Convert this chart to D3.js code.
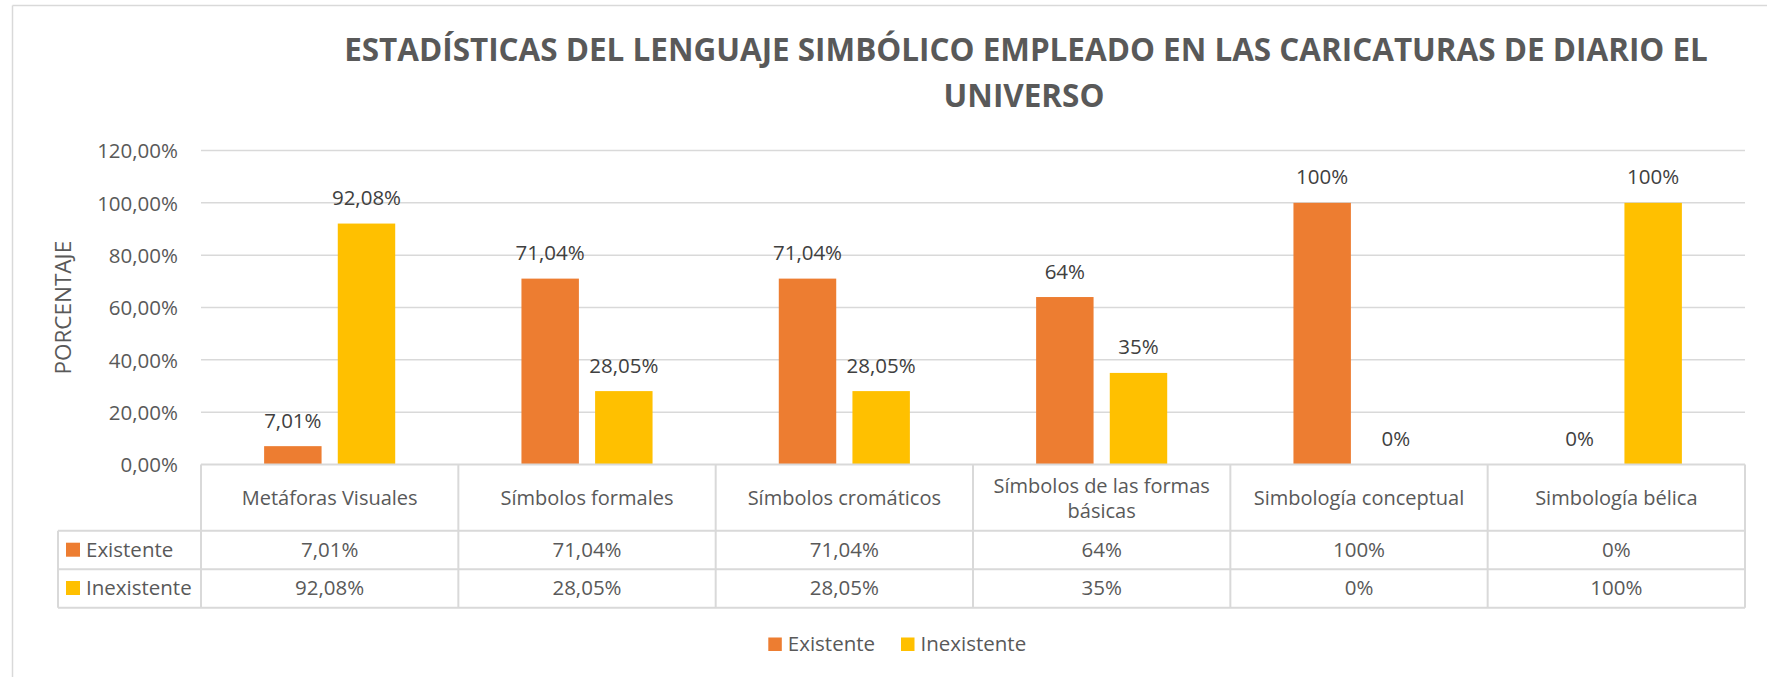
<!DOCTYPE html>
<html>
<head>
<meta charset="utf-8">
<script src="https://cdn.jsdelivr.net/npm/d3@7"></script>
<style>
  body { margin: 0; background: #fff; }
  text { font-family: "Open Sans", sans-serif; }
</style>
</head>
<body>
<script>
const width = 1767,
  height = 677;

// datos
const categorias = [
  "Metáforas Visuales",
  "Símbolos formales",
  "Símbolos cromáticos",
  "Símbolos de las formas básicas",
  "Simbología conceptual",
  "Simbología bélica",
];
const series = ["Existente", "Inexistente"];
const existente = [7.01, 71.04, 71.04, 64, 100, 0];
const inexistente = [92.08, 28.05, 28.05, 35, 0, 100];
const yTicks = [0, 20, 40, 60, 80, 100, 120];
const colores = ["#ED7D31", "#FFC000"];

const valores = [existente, inexistente];

const svg = d3
  .select("body")
  .append("svg")
  .attr("width", width)
  .attr("height", height);

const plotLeft = 201,
  plotRight = 1745,
  plotTop = 150.5,
  plotBase = 464.5;

const x0 = d3.scaleBand().domain(categorias).range([plotLeft, plotRight]);
const x1 = d3
  .scaleBand()
  .domain(series)
  .range([0, x0.bandwidth()])
  .paddingInner(0.22)
  .paddingOuter(0.857);
const y = d3.scaleLinear().domain([0, 120]).range([plotBase, plotTop]);
const color = d3.scaleOrdinal().domain(series).range(colores);

const pct = (v) =>
  Number.isInteger(v) ? v + "%" : v.toFixed(2).replace(".", ",") + "%";
const tickFmt = (v) => v.toFixed(2).replace(".", ",") + "%";

// borde del area del grafico
svg.append("line").attr("x1", 12.5).attr("x2", 12.5).attr("y1", 5.5).attr("y2", height)
  .attr("stroke", "#d9d9d9").attr("stroke-width", 1.5);
svg.append("line").attr("x1", 12.5).attr("x2", width).attr("y1", 5.5).attr("y2", 5.5)
  .attr("stroke", "#d9d9d9").attr("stroke-width", 1.5);

// titulo (comprimido en horizontal, como la fuente estrecha del original)
const tituloL1 = svg
  .append("g")
  .attr("font-weight", "bold")
  .attr("font-size", 33)
  .attr("fill", "#595959")
  .attr("text-anchor", "middle");
const t1 = tituloL1
  .append("text")
  .text("ESTADÍSTICAS DEL LENGUAJE SIMBÓLICO EMPLEADO EN LAS CARICATURAS DE DIARIO EL");
const ratio = 1364 / t1.node().getComputedTextLength();
tituloL1.attr("transform", `translate(1026,61) scale(${ratio},1)`);
svg
  .append("text")
  .attr("font-weight", "bold")
  .attr("font-size", 33)
  .attr("fill", "#595959")
  .attr("text-anchor", "middle")
  .attr("transform", `translate(1024,107) scale(${ratio},1)`)
  .text("UNIVERSO");

// eje y y lineas de cuadricula
const yAxis = svg
  .append("g")
  .attr("transform", `translate(${plotLeft},0)`)
  .call(d3.axisLeft(y).tickValues(yTicks).tickFormat(tickFmt).tickSize(0).tickPadding(23));
yAxis.select(".domain").remove();
yAxis.selectAll("text").attr("font-size", 20.5).attr("fill", "#595959").attr("font-family", "Open Sans").attr("dy", "0.36em");

svg
  .append("g")
  .selectAll("line")
  .data(yTicks.slice(1))
  .join("line")
  .attr("x1", plotLeft)
  .attr("x2", plotRight)
  .attr("y1", (d) => y(d))
  .attr("y2", (d) => y(d))
  .attr("stroke", "#d9d9d9")
  .attr("stroke-width", 1.5);

svg
  .append("text")
  .attr("transform", `translate(71,307.7) rotate(-90)`)
  .attr("text-anchor", "middle")
  .attr("font-size", 22.5)
  .attr("fill", "#595959")
  .text("PORCENTAJE");

// barras
const grupos = svg
  .append("g")
  .selectAll("g")
  .data(categorias)
  .join("g")
  .attr("transform", (d) => `translate(${x0(d)},0)`);

grupos
  .selectAll("rect")
  .data((d, i) => series.map((s, j) => ({ s: s, v: valores[j][i] })))
  .join("rect")
  .attr("x", (d) => x1(d.s))
  .attr("width", x1.bandwidth())
  .attr("y", (d) => y(d.v))
  .attr("height", (d) => y(0) - y(d.v))
  .attr("fill", (d) => color(d.s));

grupos
  .selectAll("text")
  .data((d, i) => series.map((s, j) => ({ s: s, v: valores[j][i] })))
  .join("text")
  .attr("x", (d) => x1(d.s) + x1.bandwidth() / 2)
  .attr("y", (d) => y(d.v) - 18.5)
  .attr("text-anchor", "middle")
  .attr("font-size", 20.5)
  .attr("fill", "#404040")
  .text((d) => pct(d.v));

// tabla de datos
const filaCab = 530.7,
  fila1 = 569.3,
  fila2 = 607.7,
  tablaIzq = 58;
const linea = (xa, ya, xb, yb) =>
  svg.append("line").attr("x1", xa).attr("y1", ya).attr("x2", xb).attr("y2", yb)
    .attr("stroke", "#d9d9d9").attr("stroke-width", 2);

linea(plotLeft, plotBase, plotRight, plotBase);
linea(tablaIzq, filaCab, plotRight, filaCab);
linea(tablaIzq, fila1, plotRight, fila1);
linea(tablaIzq, fila2, plotRight, fila2);
linea(tablaIzq, filaCab, tablaIzq, fila2);
x0.domain().forEach((c) => linea(x0(c), plotBase, x0(c), fila2));
linea(plotRight, plotBase, plotRight, fila2);

// encabezados de categoria
svg
  .append("g")
  .selectAll("text")
  .data(categorias)
  .join("text")
  .attr("x", (d) => x0(d) + x0.bandwidth() / 2)
  .attr("y", 505)
  .attr("text-anchor", "middle")
  .attr("font-size", 20)
  .attr("fill", "#595959")
  .each(function (d) {
    const el = d3.select(this);
    const palabras = d.split(" ");
    let lineas = [],
      actual = [];
    palabras.forEach((p) => {
      el.text(actual.concat(p).join(" "));
      if (this.getComputedTextLength() > 245 && actual.length) {
        lineas.push(actual.join(" "));
        actual = [p];
      } else actual.push(p);
    });
    lineas.push(actual.join(" "));
    el.text(null);
    const cx = el.attr("x");
    lineas.forEach((l, k) => {
      el.append("tspan")
        .attr("x", cx)
        .attr("y", 505 + (k - (lineas.length - 1) / 2) * 25)
        .text(l);
    });
  });

// filas de valores
const filasY = [556.7, 595];
series.forEach((s, j) => {
  svg.append("rect").attr("x", 66).attr("y", filasY[j] - 14).attr("width", 14).attr("height", 14)
    .attr("fill", color(s));
  svg.append("text").attr("x", 86).attr("y", filasY[j]).attr("font-size", 20.5)
    .attr("fill", "#595959").text(s);
  svg
    .append("g")
    .selectAll("text")
    .data(categorias)
    .join("text")
    .attr("x", (d) => x0(d) + x0.bandwidth() / 2)
    .attr("y", filasY[j])
    .attr("text-anchor", "middle")
    .attr("font-size", 20.5)
    .attr("fill", "#595959")
    .text((d, i) => pct(valores[j][i]));
});

// leyenda
const leyX = [768.3, 901];
series.forEach((s, j) => {
  svg.append("rect").attr("x", leyX[j]).attr("y", 637.5).attr("width", 13.5).attr("height", 13.5)
    .attr("fill", color(s));
  svg.append("text").attr("x", leyX[j] + 19.5).attr("y", 651).attr("font-size", 20.5)
    .attr("fill", "#595959").text(s);
});
</script>
</body>
</html>
